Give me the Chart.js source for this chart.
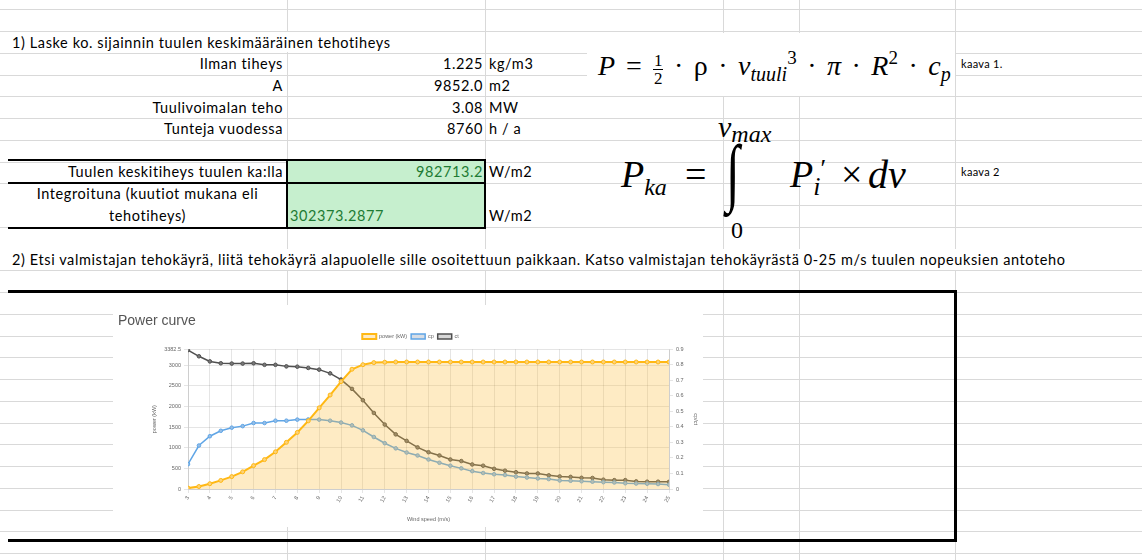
<!DOCTYPE html>
<html>
<head>
<meta charset="utf-8">
<script src="https://cdn.jsdelivr.net/npm/chart.js@4.4.0/dist/chart.umd.min.js"></script>
<style>
body { margin: 0; background: #fff; }
#sheet { position: relative; width: 1142px; height: 560px; overflow: hidden; background: #fff;
  font-family: Lato, "Liberation Sans", sans-serif; font-size: 14.5px; color: #000; }
.h { position: absolute; left: 0; width: 1142px; height: 1px; background: #d9d9d9; }
.v { position: absolute; top: 0; width: 1px; height: 560px; background: #d9d9d9; }
.t { position: absolute; white-space: nowrap; line-height: 21px; height: 21px; letter-spacing: 0.6px; }
.r { text-align: right; }
.blk { position: absolute; background: #000; }
.mask { position: absolute; background: #fff; }
.math { position: absolute; font-family: "Liberation Serif", serif; white-space: nowrap; line-height: 1; }
.math i { font-style: italic; }
.small { font-size: 11px; letter-spacing: 0.3px; }
#chartBox { position: absolute; left: 113px; top: 305px; width: 590px; height: 222px; background: #fff; letter-spacing: 0; }
</style>
</head>
<body>
<div id="sheet">
  <div id="grid"></div>

  <!-- masks for overflowing / merged cells -->
  <div class="mask" style="left:280px;top:32px;width:12px;height:20px"></div>
  <div class="mask" style="left:0;top:249px;width:1142px;height:21px"></div>
  <div class="mask" style="left:0;top:203px;width:723px;height:3px"></div>

  <!-- green result cells -->
  <div class="mask" style="left:287px;top:160px;width:198px;height:67px;background:#c6efce"></div>

  <div class="t" style="left:12px;top:32px">1) Laske ko. sijainnin tuulen keskimääräinen tehotiheys</div>

  <div class="t r" style="left:0;width:283px;top:53px">Ilman tiheys</div>
  <div class="t r" style="left:287px;width:196px;top:53px">1.225</div>
  <div class="t" style="left:489px;top:53px">kg/m3</div>

  <div class="t r" style="left:0;width:283px;top:75px">A</div>
  <div class="t r" style="left:287px;width:196px;top:75px">9852.0</div>
  <div class="t" style="left:489px;top:75px">m2</div>

  <div class="t r" style="left:0;width:283px;top:97px">Tuulivoimalan teho</div>
  <div class="t r" style="left:287px;width:196px;top:97px">3.08</div>
  <div class="t" style="left:489px;top:97px">MW</div>

  <div class="t r" style="left:0;width:283px;top:118px">Tunteja vuodessa</div>
  <div class="t r" style="left:287px;width:196px;top:118px">8760</div>
  <div class="t" style="left:489px;top:118px">h / a</div>

  <div class="t r" style="left:0;width:283px;top:161px">Tuulen keskitiheys tuulen ka:lla</div>
  <div class="t r" style="left:287px;width:196px;top:161px;color:#1e7b34">982713.2</div>
  <div class="t" style="left:489px;top:161px">W/m2</div>

  <div class="t" style="left:8px;width:279px;top:183px;text-align:center">Integroituna (kuutiot mukana eli</div>
  <div class="t" style="left:8px;width:279px;top:205px;text-align:center">tehotiheys)</div>
  <div class="t" style="left:290px;top:205px;color:#1e7b34">302373.2877</div>
  <div class="t" style="left:489px;top:205px">W/m2</div>

  <div class="t" style="left:12px;top:249px">2) Etsi valmistajan tehokäyrä, liitä tehokäyrä alapuolelle sille osoitettuun paikkaan. Katso valmistajan tehokäyrästä 0-25 m/s tuulen nopeuksien antoteho</div>

  <!-- thick borders -->
  <div class="blk" style="left:8px;top:159px;width:478px;height:2px"></div>
  <div class="blk" style="left:8px;top:182px;width:478px;height:2px"></div>
  <div class="blk" style="left:8px;top:227px;width:478px;height:2px"></div>
  <div class="blk" style="left:286px;top:159px;width:2px;height:70px"></div>
  <div class="blk" style="left:484px;top:159px;width:2px;height:70px"></div>

  <!-- formula 1 -->
  <div class="mask" style="left:587px;top:33px;width:368px;height:63px"></div>
  <div class="math" style="left:598px;top:48px;font-size:28px">
    <i>P</i><span style="margin:0 11px">=</span><span style="display:inline-block;vertical-align:-9px;font-size:17px;text-align:center;line-height:17px"><span style="display:block;border-bottom:1px solid #000;padding:0 1px">1</span><span style="display:block">2</span></span><span style="margin:0 10.5px">·</span>ρ<span style="margin:0 10.5px">·</span><i>v</i><sub style="font-size:20px;vertical-align:-6px"><i>tuuli</i></sub><sup style="font-size:19px;vertical-align:11px">3</sup><span style="margin:0 10.5px">·</span><i>π</i><span style="margin:0 10.5px">·</span><i>R</i><sup style="font-size:19px;vertical-align:11px">2</sup><span style="margin:0 10.5px">·</span><i>c</i><sub style="font-size:20px;vertical-align:-6px"><i>p</i></sub>
  </div>
  <div class="t small" style="left:961px;top:53px">kaava 1.</div>

  <!-- formula 2 -->
  <div class="math" style="left:621px;top:155px;font-size:38px"><i>P</i><sub style="font-size:24px;vertical-align:-8px"><i>ka</i></sub></div>
  <div class="math" style="left:685px;top:155px;font-size:38px">=</div>
  <div class="math" style="left:726px;top:134px;font-size:50px;transform:scaleY(1.5);transform-origin:top left">∫</div>
  <div class="math" style="left:718px;top:112px;font-size:30px"><i>v</i><sub style="font-size:24px;vertical-align:-5px"><i>max</i></sub></div>
  <div class="math" style="left:731px;top:218px;font-size:24px">0</div>
  <div class="math" style="left:790px;top:155px;font-size:38px"><i>P</i><sub style="font-size:26px;vertical-align:-8px"><i>i</i></sub><sup style="font-size:26px;vertical-align:10px">′</sup></div>
  <div class="math" style="left:841px;top:155px;font-size:38px">×</div>
  <div class="math" style="left:868px;top:155px;font-size:40px"><i>dv</i></div>
  <div class="t small" style="left:961px;top:161px">kaava 2</div>

  <!-- chart frame -->
  <div class="blk" style="left:8px;top:290px;width:949px;height:3px"></div>
  <div class="blk" style="left:954px;top:290px;width:3px;height:252px"></div>
  <div class="blk" style="left:8px;top:539px;width:949px;height:3px"></div>

  <div id="chartBox"><canvas id="myChart" width="590" height="222"></canvas></div>
</div>

<script>
const windSpeed = [3, 3.5, 4, 4.5, 5, 5.5, 6, 6.5, 7, 7.5, 8, 8.5, 9, 9.5, 10, 10.5, 11, 11.5, 12, 12.5,
  13, 13.5, 14, 14.5, 15, 15.5, 16, 16.5, 17, 17.5, 18, 18.5, 19, 19.5, 20, 20.5, 21, 21.5, 22, 22.5,
  23, 23.5, 24, 24.5, 25];
const powerKw = [22, 60, 128, 208, 300, 416, 566, 712, 900, 1130, 1370, 1650, 1965, 2275, 2600, 2900, 3010, 3060, 3070, 3075,
  3075, 3075, 3075, 3075, 3075, 3075, 3075, 3075, 3075, 3075, 3075, 3075, 3075, 3075, 3075, 3075, 3075, 3075, 3075, 3075,
  3075, 3075, 3075, 3075, 3075];
const cp = [0.16, 0.28, 0.34, 0.375, 0.395, 0.405, 0.425, 0.425, 0.44, 0.44, 0.447, 0.448, 0.447, 0.44, 0.428, 0.41, 0.378, 0.335, 0.295, 0.262,
  0.235, 0.216, 0.19, 0.169, 0.15, 0.133, 0.115, 0.103, 0.095, 0.09, 0.08, 0.074, 0.068, 0.064, 0.055, 0.053, 0.05, 0.047, 0.044, 0.042,
  0.037, 0.035, 0.034, 0.032, 0.028];
const ct = [0.895, 0.855, 0.822, 0.81, 0.808, 0.808, 0.81, 0.8, 0.8, 0.79, 0.788, 0.78, 0.769, 0.745, 0.705, 0.645, 0.572, 0.49, 0.415, 0.352,
  0.31, 0.268, 0.237, 0.216, 0.19, 0.18, 0.158, 0.15, 0.13, 0.118, 0.108, 0.1, 0.1, 0.088, 0.081, 0.078, 0.072, 0.071, 0.06, 0.057,
  0.057, 0.049, 0.047, 0.047, 0.046];
const powerTicks = [0, 500, 1000, 1500, 2000, 2500, 3000, 3382.5];

// spreadsheet grid
const grid = document.getElementById('grid');
for (let k = 0; k < 26; k++) {
    const d = document.createElement('div');
    d.className = 'h';
    d.style.top = (9.3 + k * 21.75) + 'px';
    grid.appendChild(d);
}
[287, 485, 723, 799, 955].forEach(x => {
    const d = document.createElement('div');
    d.className = 'v';
    d.style.left = x + 'px';
    grid.appendChild(d);
});

function points(values) {
    return windSpeed.map((w, i) => ({ x: w, y: values[i] }));
}

document.addEventListener("DOMContentLoaded", function() {
    Chart.defaults.font.family = "'Liberation Sans', Arial, sans-serif";
    Chart.defaults.color = '#666';

    const ctx = document.getElementById('myChart').getContext('2d');
    new Chart(ctx, {
        type: 'line',
        data: {
            datasets: [{
                label: 'power (kW)',
                data: points(powerKw),
                yAxisID: 'y',
                borderColor: 'rgb(255, 184, 20)',
                backgroundColor: 'rgba(253, 190, 60, 0.3)',
                pointBackgroundColor: 'rgba(253, 210, 120, 1)',
                borderWidth: 2,
                pointRadius: 2,
                pointBorderWidth: 1,
                fill: 'origin'
            }, {
                label: 'cp',
                data: points(cp),
                yAxisID: 'y1',
                borderColor: 'rgb(95, 165, 230)',
                backgroundColor: 'rgba(205, 212, 222, 0.8)',
                pointBackgroundColor: 'rgb(150, 190, 230)',
                borderWidth: 1.5,
                pointRadius: 1.8,
                pointBorderWidth: 1,
                fill: false
            }, {
                label: 'ct',
                data: points(ct),
                yAxisID: 'y1',
                borderColor: 'rgb(80, 80, 80)',
                backgroundColor: 'rgba(205, 205, 205, 0.8)',
                pointBackgroundColor: 'rgb(120, 120, 120)',
                borderWidth: 1.5,
                pointRadius: 1.8,
                pointBorderWidth: 1,
                fill: false
            }]
        },
        options: {
            responsive: false,
            animation: false,
            layout: { padding: { left: 5, right: 0, top: 0, bottom: 0 } },
            plugins: {
                title: {
                    display: true,
                    text: 'Power curve',
                    align: 'start',
                    color: '#555',
                    font: { size: 14, weight: 'normal' },
                    padding: { top: 8, bottom: 0 }
                },
                legend: {
                    labels: { boxWidth: 14, boxHeight: 5, padding: 4, font: { size: 5.5 } }
                },
                tooltip: { enabled: false }
            },
            scales: {
                x: {
                    type: 'linear',
                    min: 3,
                    max: 25,
                    ticks: { stepSize: 1, minRotation: 60, maxRotation: 60, font: { size: 5.5 }, padding: 2 },
                    grid: { tickLength: 4 },
                    title: { display: true, text: 'Wind speed (m/s)', font: { size: 5.5 }, padding: { top: 2, bottom: 4 } },
                    afterFit: s => { s.height = 38; }
                },
                y: {
                    position: 'left',
                    min: 0,
                    max: 3382.5,
                    afterBuildTicks: s => { s.ticks = powerTicks.map(v => ({ value: v })); },
                    ticks: { font: { size: 5.5 }, padding: 3, callback: v => String(v) },
                    grid: { tickLength: 4 },
                    title: { display: true, text: 'power (kW)', font: { size: 5.5 }, padding: { top: 33, bottom: 0 } },
                    afterFit: s => { s.width = 70; }
                },
                y1: {
                    position: 'right',
                    min: 0,
                    max: 0.9,
                    ticks: { stepSize: 0.1, font: { size: 5.5 }, padding: 3 },
                    grid: { drawOnChartArea: false, tickLength: 4 },
                    title: { display: true, text: 'cp/ct', font: { size: 5.5 }, padding: { top: 4, bottom: 0 } },
                    afterFit: s => { s.width = 34; }
                }
            }
        }
    });
});
</script>
</body>
</html>
